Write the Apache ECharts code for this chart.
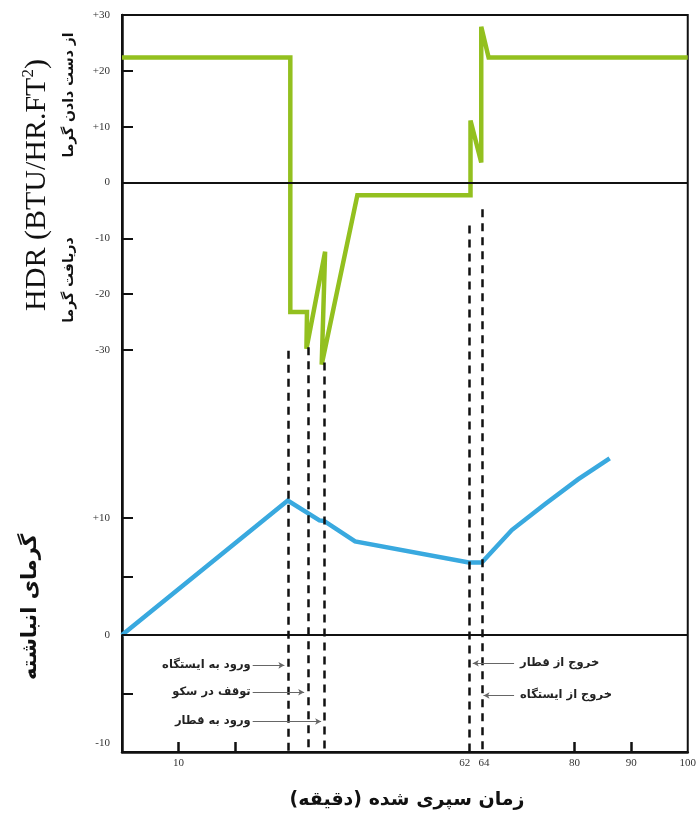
<!DOCTYPE html>
<html>
<head>
<meta charset="utf-8">
<script src="https://cdn.jsdelivr.net/npm/echarts@6/dist/echarts.min.js"></script>
<style>
  html, body { margin: 0; padding: 0; background: #fff; }
  #chart { width: 699px; height: 818px; }
</style>
</head>
<body>
<div id="chart"></div>
<script>
// Heat discharge rate (HDR) over the trip, minutes vs BTU/hr·ft²
const hdrTime  = [0, 29.75, 29.75, 32.7, 32.6, 35.9, 35.3, 41.6, 61.6, 61.6, 63.5, 63.5, 64.8, 100];
const hdrValue = [22.4, 22.4, -23.2, -23.2, -29.8, -12.4, -32.6, -2.3, -2.3, 11.1, 3.6, 27.9, 22.4, 22.4];

// Stored (accumulated) heat over the same trip
const storedTime  = [0, 29.3, 34.9, 35.7, 41.2, 61.3, 63.6, 68.9, 74.8, 80.6, 86.2];
const storedValue = [0, 11.5, 9.8, 9.75, 8.0, 6.2, 6.2, 8.97, 11.2, 13.3, 15.1];

// Event markers (dashed verticals), in stored-heat axis units
const eventTime   = [29.3, 32.9, 35.7, 61.4, 63.6];
const eventTop    = [24.3, 24.6, 23.3, 35.0, 36.4];
const eventBottom = -10;

// Event captions with pointer arrows
const arriveNames = ['ورود به ایستگاه', 'توقف در سکو', 'ورود به قطار'];
const arriveY     = [-2.59, -4.89, -7.39];
const arriveFrom  = 23.1;
const arriveTo    = [28.7, 32.2, 35.2];
const leaveNames  = ['خروج از قطار', 'خروج از ایستگاه'];
const leaveY      = [-2.41, -5.17];
const leaveFrom   = 69.3;
const leaveTo     = [62.0, 63.9];

// Axis ticks and labels
const xTicks        = [10, 20, 80, 90];
const xLabels       = [10, 62, 64, 80, 90, 100];
const hdrTicks      = [20, 10, -10, -20, -30];
const hdrLabels     = [30, 20, 10, 0, -10, -20, -30];
const storedTicks   = [10, 5, -5];
const storedLabels  = [10, 0, -10];

const INK = '#111';
const SERIF = 'Liberation Serif';
const FA = 'DejaVu Sans';

const chart = echarts.init(document.getElementById('chart'), null, { renderer: 'canvas' });

function signed(v) { return v > 0 ? '+' + v : String(v); }

const eventLines = eventTime.map((t, i) => [
  { coord: [t, eventTop[i]] },
  { coord: [t, eventBottom] }
]);

const captionLines = arriveNames.map((n, i) => [
  { coord: [arriveFrom, arriveY[i]], name: n, label: { distance: 2 } },
  { coord: [arriveTo[i], arriveY[i]] }
]).concat(leaveNames.map((n, i) => [
  { coord: [leaveFrom, leaveY[i]], name: n, label: { distance: 6 } },
  { coord: [leaveTo[i], leaveY[i]] }
]));

const option = {
  animation: false,
  backgroundColor: '#fff',
  grid: {
    left: 122, right: 8, top: 15, bottom: 66,
    show: true, borderColor: INK, borderWidth: 2, backgroundColor: 'transparent'
  },
  xAxis: {
    type: 'value', min: 0, max: 100,
    axisLine: { show: true, onZero: false, lineStyle: { color: INK, width: 2.5 } },
    axisTick: { show: true, inside: true, length: 10, customValues: xTicks, lineStyle: { color: INK, width: 2.5 } },
    axisLabel: {
      customValues: xLabels, margin: 6, color: '#333', fontFamily: SERIF, fontSize: 11,
      formatter: v => v === 62 ? '{l|62}' : String(v),
      rich: { l: { padding: [0, 16, 0, 0], fontFamily: SERIF, fontSize: 11, color: '#333' } }
    },
    splitLine: { show: false }
  },
  yAxis: [
    {
      type: 'value', min: -102, max: 30, position: 'left',
      axisLine: { show: true, onZero: false, lineStyle: { color: INK, width: 2.5 } },
      axisTick: { show: true, inside: true, length: 11, customValues: hdrTicks, lineStyle: { color: INK, width: 2 } },
      axisLabel: { customValues: hdrLabels, margin: 12, color: '#333', fontFamily: SERIF, fontSize: 11, formatter: signed },
      splitLine: { show: false }
    },
    {
      type: 'value', min: -10, max: 53, position: 'left', offset: 0,
      axisLine: { show: false },
      axisTick: { show: true, inside: true, length: 11, customValues: storedTicks, lineStyle: { color: INK, width: 2 } },
      axisLabel: {
        customValues: storedLabels, margin: 12, color: '#333', fontFamily: SERIF, fontSize: 11,
        formatter: v => v === -10 ? '{d|-10}' : signed(v),
        rich: { d: { padding: [0, 0, 18, 0], fontFamily: SERIF, fontSize: 11, color: '#333' } }
      },
      splitLine: { show: false }
    }
  ],
  series: [
    {
      name: 'HDR', type: 'line', xAxisIndex: 0, yAxisIndex: 0,
      data: hdrTime.map((t, i) => [t, hdrValue[i]]),
      showSymbol: false, symbol: 'none',
      lineStyle: { color: '#93c01f', width: 4.5, join: 'miter', miterLimit: 3, cap: 'butt' },
      z: 3,
      markLine: {
        silent: true, symbol: 'none', animation: false,
        lineStyle: { color: INK, width: 2, type: 'solid' },
        label: { show: false },
        data: [{ yAxis: 0 }]
      }
    },
    {
      name: 'stored', type: 'line', xAxisIndex: 0, yAxisIndex: 1,
      data: storedTime.map((t, i) => [t, storedValue[i]]),
      showSymbol: false, symbol: 'none',
      lineStyle: { color: '#39a9df', width: 4.5, join: 'miter', miterLimit: 3, cap: 'butt' },
      z: 3,
      markLine: {
        silent: true, symbol: 'none', animation: false,
        lineStyle: { color: INK, width: 2, type: 'solid' },
        label: { show: false },
        data: [{ yAxis: 0 }]
      }
    },
    {
      name: 'events', type: 'line', xAxisIndex: 0, yAxisIndex: 1, data: [],
      markLine: {
        silent: true, symbol: 'none', animation: false,
        lineStyle: { color: INK, width: 2.5, type: [8, 6] },
        label: { show: false },
        data: eventLines
      }
    },
    {
      name: 'captions', type: 'line', xAxisIndex: 0, yAxisIndex: 1, data: [],
      markLine: {
        silent: true, symbol: ['none', 'arrow'], symbolSize: [5, 6], animation: false,
        lineStyle: { color: '#666', width: 1, type: 'solid' },
        label: {
          show: true, position: 'start', formatter: '{b}',
          fontFamily: FA, fontWeight: 'bold', fontSize: 11.5, color: '#222'
        },
        data: captionLines
      }
    }
  ],
  graphic: [
    {
      type: 'text', x: 37, y: 185, rotation: Math.PI / 2,
      style: {
        text: '{a|HDR (BTU/HR.FT}{s|2}{a|)}',
        align: 'center', verticalAlign: 'middle',
        rich: {
          a: { fontFamily: SERIF, fontSize: 30, fill: '#111', lineHeight: 34 },
          s: { fontFamily: SERIF, fontSize: 17, fill: '#111', verticalAlign: 'top', lineHeight: 34 }
        }
      }
    },
    {
      type: 'text', x: 69, y: 95, rotation: Math.PI / 2,
      style: { text: 'از دست دادن گرما', align: 'center', verticalAlign: 'middle',
               fontFamily: FA, fontWeight: 'bold', fontSize: 14, fill: '#111' }
    },
    {
      type: 'text', x: 69, y: 280, rotation: Math.PI / 2,
      style: { text: 'دریافت گرما', align: 'center', verticalAlign: 'middle',
               fontFamily: FA, fontWeight: 'bold', fontSize: 14, fill: '#111' }
    },
    {
      type: 'text', x: 31, y: 607, rotation: Math.PI / 2,
      style: { text: 'گرمای انباشته', align: 'center', verticalAlign: 'middle',
               fontFamily: FA, fontWeight: 'bold', fontSize: 21, fill: '#111' }
    },
    {
      type: 'text', x: 407, y: 800,
      style: { text: 'زمان سپری شده (دقیقه)\u200F', align: 'center', verticalAlign: 'middle',
               fontFamily: FA, fontWeight: 'bold', fontSize: 19, fill: '#111' }
    }
  ]
};

chart.setOption(option);
</script>
</body>
</html>
